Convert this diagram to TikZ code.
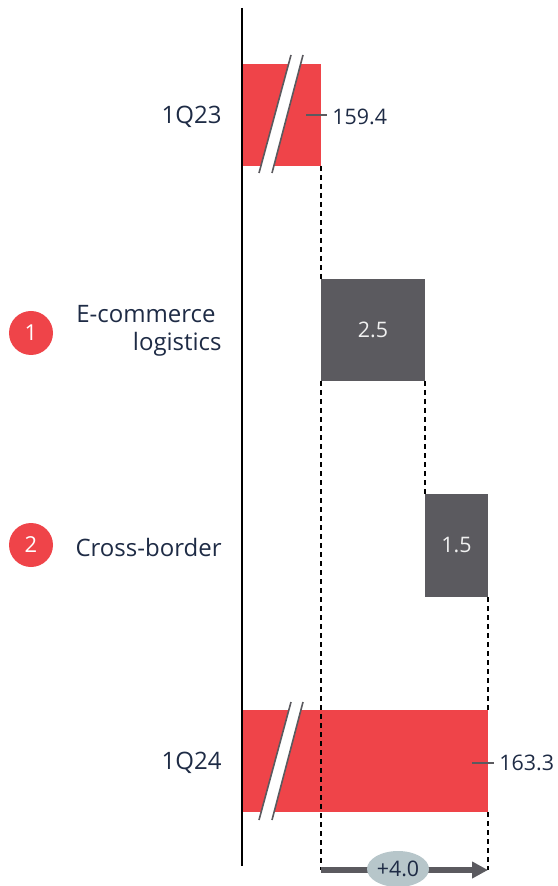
\documentclass[tikz,border=0pt]{standalone}
\usepackage{xcolor}
\usepackage{fontspec}
\setmainfont{Open Sans}
\usetikzlibrary{positioning,calc,arrows.meta,shapes.geometric}
\definecolor{barred}{HTML}{EF4449}
\definecolor{bargray}{HTML}{5B5A5F}
\definecolor{txtblue}{HTML}{1E2B45}
\definecolor{pillgray}{HTML}{B7C6CA}
\tikzset{
  bar/.style={inner sep=0pt, outer sep=0pt, anchor=north west},
  lbl/.style={text=txtblue, font=\fontsize{12}{14}\selectfont, inner sep=0pt},
  num/.style={lbl, font=\fontsize{10.7}{13}\selectfont},
  guide/.style={line width=0.6pt, dash pattern=on 2.5pt off 2pt},
  tick/.style={draw=bargray, line width=0.6pt},
}

\begin{document}
\begin{tikzpicture}[x=0.5pt, y=-0.5pt]
    \useasboundingbox (0,0) rectangle (557,886);
    % bars
    \node [bar, fill=barred, minimum width=39.5pt, minimum height=51pt] (q23) at (242,64) {};
    \node [bar, fill=bargray, minimum width=52pt, minimum height=51pt] (eco) at (321,279) {};
    \node [bar, fill=bargray, minimum width=31.5pt, minimum height=51.5pt] (cb) at (425,494) {};
    \node [bar, fill=barred, minimum width=123pt, minimum height=51pt] (q24) at (242,710) {};
    \node [num, text=white!94!black] at (eco.center) {2.5};
    \node [num, text=white!94!black] at (cb.center) {1.5};
    % axis breaks
    \foreach \dy in {0, 647} {
        \fill [white] (259,173+\dy) -- (291,55+\dy) -- (303,55+\dy) -- (272,173+\dy) -- cycle;
        \draw [bargray, line width=0.8pt] (259,173+\dy) -- (291,55+\dy) (272,173+\dy) -- (303,55+\dy);
    }
    % axis
    \coordinate (axtop) at (242,8);
    \coordinate (axbot) at (242,866);
    \draw [line width=1pt] (axtop) -- (axbot);
    % guides
    \coordinate (ds) at (321,870);
    \coordinate (de) at (488,870);
    \draw [guide] (q23.south east) -- (eco.north west);
    \draw [guide] (eco.south west) -- (ds);
    \draw [guide] (eco.south east) -- (cb.north west);
    \draw [guide] (cb.south east) -- (q24.north east);
    \draw [guide] (q24.south east) -- (de);
    % values
    \node [num, anchor=west] (v23) at (332,117) {159.4};
    \node [num, anchor=west] (v24) at (499,763) {163.3};
    \coordinate (t23) at (306,115);
    \coordinate (t24) at (472,763);
    \draw [tick] (t23) -- ([xshift=-2.5pt]v23.west |- t23);
    \draw [tick] (t24) -- ([xshift=-2.5pt]v24.west |- t24);
    % row labels
    \foreach \y/\name/\txt in {117/r1/1Q23, 331/r2/{E-commerce\hspace*{3pt}\\logistics}, 547/r3/Cross-border, 763/r4/1Q24}
        \node [lbl, anchor=east, align=right] (\name) at (222,\y) {\txt};
    \node [circle, fill=barred, minimum size=22pt, inner sep=0pt, text=white, font=\fontsize{11}{13}\selectfont] (n1) at (31,333) {1};
    \node [circle, fill=barred, minimum size=22pt, inner sep=0pt, text=white, font=\fontsize{11}{13}\selectfont] (n2) at (31,545) {2};
    % total change
    \draw [bargray, line width=3pt, -{Triangle[length=8pt, width=8pt]}] (ds) -- (de);
    \node [ellipse, fill=pillgray, minimum width=31pt, minimum height=18pt, inner sep=0pt, num] (tot) at (398,869) {+4.0};
\end{tikzpicture}
\end{document}
